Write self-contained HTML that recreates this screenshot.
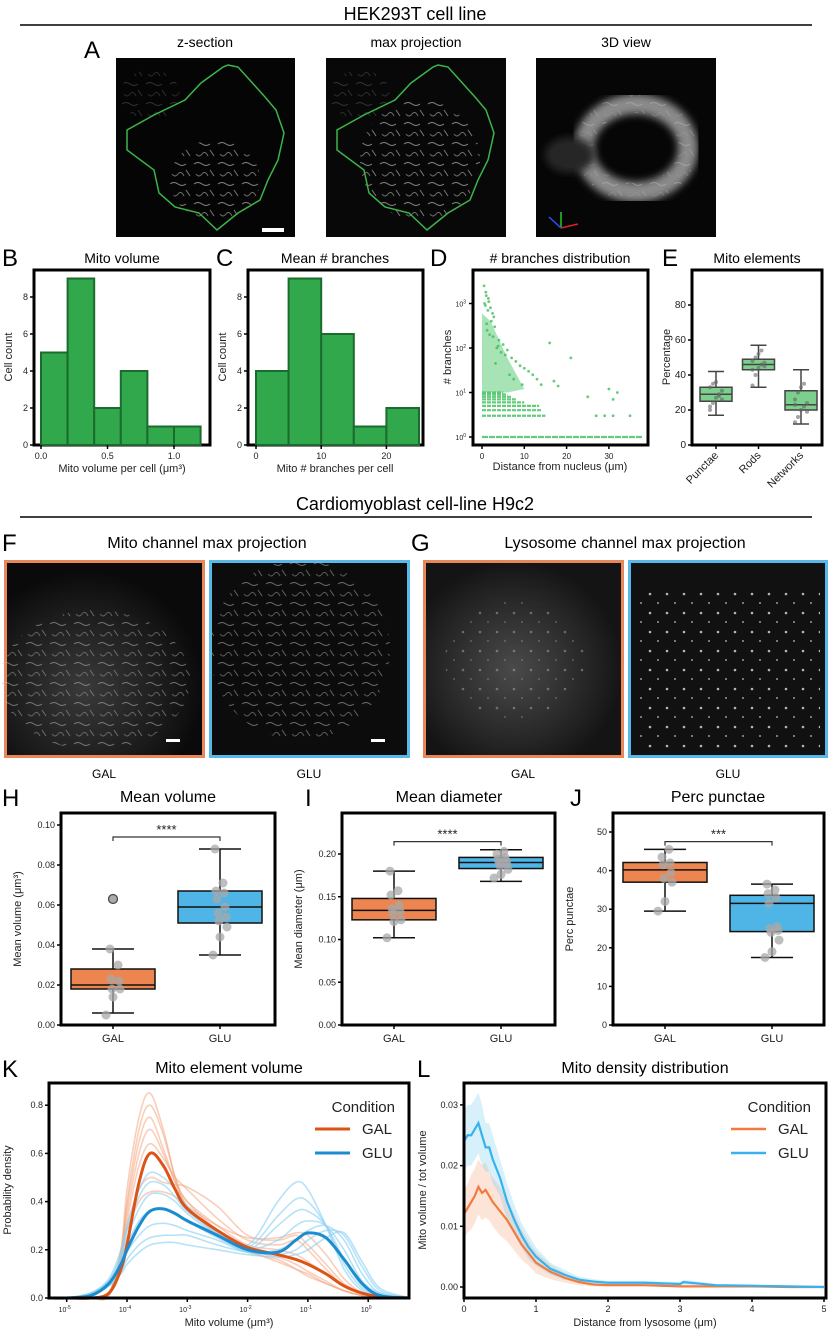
<!DOCTYPE html>
<html><head><meta charset="utf-8"><style>
html,body{margin:0;padding:0;background:#fff}
svg{display:block;font-family:"Liberation Sans",Arial,sans-serif}
.n{font-family:"Liberation Sans Narrow","Liberation Sans",sans-serif}
</style></head><body>
<svg id="fig" width="830" height="1334" viewBox="0 0 830 1334" xmlns="http://www.w3.org/2000/svg">
<defs>
<radialGradient id="mitoGlow" cx="0.4" cy="0.65" r="0.6"><stop offset="0" stop-color="#3a3a3a"/><stop offset="0.7" stop-color="#1a1a1a"/><stop offset="1" stop-color="#0a0a0a"/></radialGradient>
<radialGradient id="lysoGlow" cx="0.45" cy="0.55" r="0.55"><stop offset="0" stop-color="#4a4a4a"/><stop offset="0.7" stop-color="#252525"/><stop offset="1" stop-color="#141414"/></radialGradient>
<pattern id="squig" width="24" height="20" patternUnits="userSpaceOnUse">
<path d="M2,4 q4,-3 8,0 t8,0" fill="none" stroke="#bbb" stroke-width="1"/>
<path d="M4,14 q3,4 6,0 t6,2" fill="none" stroke="#999" stroke-width="1"/>
<path d="M18,10 l4,6" stroke="#aaa" stroke-width="1"/>
</pattern>
<pattern id="dots" width="17" height="19" patternUnits="userSpaceOnUse">
<circle cx="4" cy="5" r="1.3" fill="#ddd"/><circle cx="12" cy="14" r="1" fill="#bbb"/>
</pattern>
<filter id="blur2"><feGaussianBlur stdDeviation="4"/></filter>
<filter id="blur5"><feGaussianBlur stdDeviation="6"/></filter>
</defs>
<text class="n" x="415" y="20" font-size="18" text-anchor="middle">HEK293T cell line</text>
<line x1="20" y1="25" x2="812" y2="25" stroke="#000" stroke-width="1.5"/>
<text class="n" x="84" y="58" font-size="24">A</text>
<text class="n" x="205" y="47" font-size="14" text-anchor="middle">z-section</text>
<text class="n" x="416" y="47" font-size="14" text-anchor="middle">max projection</text>
<text class="n" x="626" y="47" font-size="14" text-anchor="middle">3D view</text>
<g>
<rect x="116" y="58" width="179" height="179" fill="#050505"/>
<ellipse cx="215" cy="180" rx="45" ry="40" fill="url(#squig)" opacity="0.7"/>
<ellipse cx="150" cy="95" rx="30" ry="25" fill="url(#squig)" opacity="0.25"/>
<polygon points="228,65 238,67 265,97 276,110 284,133 278,160 268,180 260,200 238,213 217,230 199,213 175,207 159,193 154,170 127,150 127,130 154,115 185,100 201,83 223,67" fill="none" stroke="#3cb54a" stroke-width="1.5"/>
<rect x="262" y="228" width="22" height="4" fill="#fff"/>
</g>
<g transform="translate(210,0)">
<rect x="116" y="58" width="180" height="179" fill="#080808"/>
<ellipse cx="210" cy="160" rx="60" ry="60" fill="url(#squig)" opacity="0.7"/>
<ellipse cx="150" cy="95" rx="30" ry="25" fill="url(#squig)" opacity="0.25"/>
<polygon points="228,65 238,67 265,97 276,110 284,133 278,160 268,180 260,200 238,213 217,230 199,213 175,207 159,193 154,170 127,150 127,130 154,115 185,100 201,83 223,67" fill="none" stroke="#3cb54a" stroke-width="1.5"/>
</g>
<g>
<rect x="536" y="58" width="180" height="179" fill="#060606"/>
<ellipse cx="636" cy="148" rx="52" ry="44" fill="none" stroke="#8a8a8a" stroke-width="20" filter="url(#blur2)"/>
<ellipse cx="636" cy="148" rx="52" ry="44" fill="none" stroke="url(#squig)" stroke-width="18" opacity="0.5"/>
<ellipse cx="570" cy="155" rx="25" ry="18" fill="#262626" filter="url(#blur2)"/>
<line x1="561" y1="228" x2="561" y2="212" stroke="#2c2" stroke-width="1.5"/>
<line x1="561" y1="228" x2="578" y2="224" stroke="#d22" stroke-width="1.5"/>
<line x1="561" y1="228" x2="549" y2="217" stroke="#25f" stroke-width="1.5"/>
</g>

<text x="2" y="266" font-size="24">B</text>
<text x="122" y="263" font-size="14" text-anchor="middle">Mito volume</text>
<text x="216" y="266" font-size="24">C</text>
<text x="335" y="263" font-size="14" text-anchor="middle">Mean # branches</text>
<text x="430" y="266" font-size="24">D</text>
<text x="560" y="263" font-size="14" text-anchor="middle"># branches distribution</text>
<text x="662" y="266" font-size="24">E</text>
<text x="757" y="263" font-size="14" text-anchor="middle">Mito elements</text>

<text class="n" x="415" y="510" font-size="18" text-anchor="middle">Cardiomyoblast cell-line H9c2</text>
<line x1="20" y1="517" x2="812" y2="517" stroke="#000" stroke-width="1.5"/>
<text class="n" x="2" y="551" font-size="24">F</text>
<text class="n" x="207" y="548" font-size="16" text-anchor="middle">Mito channel max projection</text>
<text class="n" x="411" y="551" font-size="24">G</text>
<text class="n" x="625" y="548" font-size="16" text-anchor="middle">Lysosome channel max projection</text>
<g>
<rect x="5.5" y="561.5" width="198" height="195" fill="url(#mitoGlow)" stroke="#e8875a" stroke-width="3"/>
<ellipse cx="95" cy="680" rx="95" ry="70" fill="url(#squig)" opacity="0.55"/>
<rect x="166" y="739" width="14" height="3" fill="#fff"/></g>
<g>
<rect x="210.5" y="561.5" width="198" height="195" fill="#0c0c0c" stroke="#58b8e8" stroke-width="3"/>
<ellipse cx="300" cy="650" rx="90" ry="90" fill="url(#squig)" opacity="0.55"/>
<rect x="371" y="739" width="14" height="3" fill="#fff"/></g>
<g>
<rect x="424.5" y="561.5" width="198" height="195" fill="url(#lysoGlow)" stroke="#e8875a" stroke-width="3"/>
<ellipse cx="515" cy="660" rx="70" ry="60" fill="url(#dots)" opacity="0.35"/></g>
<g>
<rect x="629.5" y="561.5" width="197" height="195" fill="#111" stroke="#58b8e8" stroke-width="3"/>
<rect x="640" y="590" width="180" height="160" fill="url(#dots)" opacity="0.8"/></g>
<text class="n" x="104" y="778" font-size="12" text-anchor="middle">GAL</text>
<text class="n" x="309" y="778" font-size="12" text-anchor="middle">GLU</text>
<text class="n" x="523" y="778" font-size="12" text-anchor="middle">GAL</text>
<text class="n" x="728" y="778" font-size="12" text-anchor="middle">GLU</text>

<text x="2" y="806" font-size="24">H</text>
<text x="168" y="802" font-size="16" text-anchor="middle">Mean volume</text>
<text x="305" y="806" font-size="24">I</text>
<text x="449" y="802" font-size="16" text-anchor="middle">Mean diameter</text>
<text x="570" y="806" font-size="24">J</text>
<text x="718" y="802" font-size="16" text-anchor="middle">Perc punctae</text>

<text x="2" y="1077" font-size="24">K</text>
<text x="229" y="1073" font-size="16" text-anchor="middle">Mito element volume</text>
<text x="417" y="1077" font-size="24">L</text>
<text x="645" y="1073" font-size="16" text-anchor="middle">Mito density distribution</text>
<g id="charts"></g>
</svg>
<script>
// ---------- data ----------
const histBEdges=[0,0.2,0.4,0.6,0.8,1.0,1.2];
const histBCounts=[5,9,2,4,1,1];
const histCEdges=[0,5,10,15,20,25];
const histCCounts=[4,9,6,1,2];
const dRowValues=[1,3,4,5,6,7,8,9,10];
const dRowMaxDist=[38,15,14,13.5,10,8,7,6,5];
const dScatterDist=[0.5,1,1.5,0.8,2,2.5,3,1.2,4,5,1.8,3.5,6,7,2.2,8,9,0.6,1.4,2.8,4.5,5.5,10,11,12,16,21,3.2,6.5,1.1,2.6,3.8,13,14,27,29,31,32,25,30,31,35,17,18,7.5,9.5,0.9,1.6];
const dScatterBranch=[2500,1500,1300,900,800,600,300,250,150,120,200,100,90,60,400,50,40,1000,700,500,80,70,35,30,25,130,60,45,25,350,180,110,20,15,3,3,3,10,8,12,7,3,18,14,20,15,1800,1100];
const eCats=['Punctae','Rods','Networks'];
const eWhiskLo=[17,33,12];const eQ1=[25,43,20];const eMed=[29,46,23];const eQ3=[33,49,31];const eWhiskHi=[42,57,43];
const ePointsVal=[[20,24,27,29,31,33,35,36,28,26,22],[34,40,44,46,47,48,50,52,54,45,43],[13,16,20,22,24,26,30,33,35,19,23]];
const condCats=['GAL','GLU'];
const hLo=[0.006,0.035],hQ1=[0.018,0.051],hMed=[0.020,0.059],hQ3=[0.028,0.067],hHi=[0.038,0.088];
const hPts=[[0.005,0.014,0.018,0.018,0.022,0.023,0.030,0.038],[0.035,0.044,0.049,0.052,0.054,0.056,0.059,0.063,0.066,0.067,0.071,0.088]];
const hOutliers=[0.063];
const iLo=[0.102,0.168],iQ1=[0.123,0.183],iMed=[0.134,0.19],iQ3=[0.148,0.196],iHi=[0.180,0.205];
const iPts=[[0.102,0.121,0.123,0.130,0.133,0.136,0.140,0.152,0.157,0.180],[0.172,0.176,0.182,0.186,0.188,0.190,0.192,0.194,0.196,0.2,0.203]];
const jLo=[29.5,17.5],jQ1=[37,24.2],jMed=[40.2,31.5],jQ3=[42.1,33.6],jHi=[45.5,36.5];
const jPts=[[29.5,32,37,38,39.5,41.5,42,43.5,45.5],[17.5,19,22,24,24.5,25,25.5,31.5,33,34,35,36.5]];
const kLogX=[-5.3,-5,-4.6,-4.3,-4.1,-4,-3.8,-3.62,-3.4,-3.2,-3,-2.5,-2,-1.5,-1.2,-1,-0.7,-0.4,-0.1,0.2,0.7];
const kGalMean=[0,0,0,0.02,0.12,0.22,0.48,0.6,0.55,0.45,0.37,0.28,0.21,0.18,0.16,0.14,0.1,0.05,0.02,0.005,0];
const kGluMean=[0,0,0.01,0.06,0.14,0.2,0.3,0.36,0.37,0.35,0.32,0.26,0.2,0.19,0.24,0.27,0.25,0.16,0.06,0.01,0];
const kGalReps=[
[0,0,0,0.01,0.2,0.45,0.75,0.85,0.7,0.5,0.38,0.26,0.19,0.16,0.12,0.1,0.06,0.03,0.01,0,0],
[0,0,0,0.01,0.18,0.4,0.7,0.8,0.68,0.5,0.4,0.28,0.2,0.15,0.12,0.09,0.06,0.03,0.01,0,0],
[0,0,0,0.02,0.2,0.38,0.65,0.75,0.62,0.48,0.38,0.27,0.2,0.17,0.14,0.11,0.07,0.03,0.01,0,0],
[0,0,0,0.02,0.18,0.35,0.6,0.7,0.6,0.48,0.4,0.3,0.22,0.2,0.18,0.15,0.1,0.05,0.02,0,0],
[0,0,0,0.02,0.17,0.32,0.55,0.64,0.58,0.5,0.45,0.33,0.24,0.22,0.24,0.2,0.12,0.05,0.02,0,0],
[0,0,0,0.02,0.16,0.3,0.45,0.5,0.48,0.47,0.46,0.38,0.26,0.24,0.26,0.22,0.14,0.06,0.02,0,0],
[0,0,0,0.02,0.15,0.28,0.4,0.44,0.44,0.42,0.38,0.3,0.25,0.25,0.27,0.26,0.18,0.08,0.02,0,0]];
const kGluReps=[
[0,0,0.02,0.08,0.2,0.3,0.45,0.52,0.5,0.45,0.38,0.28,0.22,0.4,0.48,0.45,0.3,0.12,0.03,0.01,0],
[0,0,0.02,0.07,0.18,0.28,0.42,0.48,0.47,0.42,0.36,0.27,0.21,0.34,0.41,0.4,0.3,0.14,0.04,0.01,0],
[0,0,0.02,0.07,0.16,0.25,0.37,0.43,0.43,0.4,0.35,0.26,0.2,0.3,0.36,0.36,0.3,0.16,0.05,0.01,0],
[0,0,0.02,0.07,0.15,0.22,0.32,0.36,0.37,0.35,0.32,0.25,0.2,0.24,0.3,0.32,0.3,0.2,0.07,0.02,0],
[0,0,0.02,0.06,0.13,0.19,0.26,0.3,0.31,0.3,0.28,0.24,0.19,0.2,0.24,0.28,0.3,0.24,0.1,0.02,0],
[0,0,0.02,0.05,0.11,0.16,0.22,0.25,0.26,0.26,0.26,0.22,0.19,0.18,0.2,0.24,0.28,0.26,0.13,0.03,0],
[0,0,0.01,0.05,0.1,0.14,0.19,0.22,0.23,0.23,0.22,0.2,0.18,0.17,0.18,0.2,0.25,0.27,0.15,0.04,0]];
const lDist=[0,0.05,0.1,0.15,0.2,0.25,0.3,0.35,0.4,0.5,0.6,0.7,0.8,0.9,1.0,1.2,1.4,1.6,1.8,2,2.5,3,3.05,3.5,4,4.5,5];
const lGlu=[0.024,0.025,0.025,0.026,0.027,0.025,0.023,0.023,0.021,0.018,0.014,0.011,0.0085,0.0065,0.005,0.003,0.002,0.0012,0.0009,0.0007,0.0007,0.0005,0.0008,0.0003,0.0002,0.0001,0];
const lGal=[0.012,0.013,0.014,0.015,0.0165,0.0155,0.016,0.015,0.014,0.0125,0.011,0.009,0.007,0.0055,0.004,0.0025,0.0015,0.0008,0.0004,0.0003,0.0003,0.0001,0.0001,0.0001,0.0001,0,0];
const lGluErr=[0.005,0.005,0.005,0.005,0.005,0.005,0.004,0.004,0.004,0.003,0.003,0.0025,0.002,0.002,0.0015,0.001,0.0008,0.0005,0.0004,0.0003,0.0003,0.0003,0.0004,0.0002,0.0001,0.0001,0.0001];
const lGalErr=[0.004,0.004,0.0045,0.0045,0.0045,0.0045,0.0045,0.004,0.004,0.004,0.0035,0.003,0.0025,0.002,0.0018,0.0012,0.0008,0.0005,0.0003,0.0002,0.0002,0.0001,0.0001,0.0001,0.0001,0,0];

// ---------- helpers ----------
const NS='http://www.w3.org/2000/svg';
const root=document.getElementById('charts');
function mk(tag,attrs,name,parent){
  const el=document.createElementNS(NS,tag);
  for(const k in attrs) el.setAttribute(k,attrs[k]);
  
  
  (parent||root).appendChild(el);return el;
}
function txt(x,y,s,size,name,anchor,extra){
  const t=mk('text',Object.assign({x:x,y:y,'font-size':size,'text-anchor':anchor||'middle',fill:'#222'},extra||{}),name);
  t.textContent=s;return t;
}
function frame(x0,y0,x1,y1,name){mk('rect',{x:x0,y:y0,width:x1-x0,height:y1-y0,fill:'none',stroke:'#000','stroke-width':3},name);}
function yTicks(vals,labels,yf,x0,name,size){
  vals.forEach((v,i)=>{const y=yf(v);mk('line',{x1:x0-4,x2:x0,y1:y,y2:y,stroke:'#000','stroke-width':1.5},name+'-tick');
    txt(x0-6,y+3,labels[i],size||9,name+'-label','end');});
}
function xTicks(vals,labels,xf,y0,name,size){
  vals.forEach((v,i)=>{const x=xf(v);mk('line',{x1:x,x2:x,y1:y0,y2:y0+4,stroke:'#000','stroke-width':1.5},name+'-tick');
    txt(x,y0+14,labels[i],size||9,name+'-label');});
}
function ylab(x,y,s,size,name){txt(x,y,s,size,name,'middle',{transform:'rotate(-90 '+x+' '+y+')'});}
function smooth(pts){
  let d='M'+pts[0][0]+','+pts[0][1];
  for(let i=0;i<pts.length-1;i++){
    const p0=pts[i-1]||pts[i],p1=pts[i],p2=pts[i+1],p3=pts[i+2]||p2;
    const c1=[p1[0]+(p2[0]-p0[0])/6,p1[1]+(p2[1]-p0[1])/6],c2=[p2[0]-(p3[0]-p1[0])/6,p2[1]-(p3[1]-p1[1])/6];
    d+=' C'+c1[0]+','+c1[1]+' '+c2[0]+','+c2[1]+' '+p2[0]+','+p2[1];
  }return d;
}

// ---------- B ----------
(function(){
  const xB=v=>41+v*133, yB=c=>445-c*18.5;
  frame(34,270,210,445,'panel-b-frame');
  histBCounts.forEach((c,i)=>mk('rect',{x:xB(histBEdges[i]),y:yB(c),width:xB(histBEdges[i+1])-xB(histBEdges[i]),height:yB(0)-yB(c),fill:'#30a84b',stroke:'#1c6b2e','stroke-width':2},'mito-volume-bar'));
  yTicks([0,2,4,6,8],['0','2','4','6','8'],yB,34,'b-y');
  xTicks([0,0.5,1.0],['0.0','0.5','1.0'],xB,445,'b-x');
  ylab(12,357,'Cell count',11,'b-y-axis-title');
  txt(122,472,'Mito volume per cell (μm³)',11,'b-x-axis-title');
})();
// ---------- C ----------
(function(){
  const xC=v=>256+v*6.52, yC=c=>445-c*18.5;
  frame(248,270,423,445,'panel-c-frame');
  histCCounts.forEach((c,i)=>mk('rect',{x:xC(histCEdges[i]),y:yC(c),width:xC(histCEdges[i+1])-xC(histCEdges[i]),height:yC(0)-yC(c),fill:'#30a84b',stroke:'#1c6b2e','stroke-width':2},'branches-bar'));
  yTicks([0,2,4,6,8],['0','2','4','6','8'],yC,248,'c-y');
  xTicks([0,10,20],['0','10','20'],xC,445,'c-x');
  ylab(226,357,'Cell count',11,'c-y-axis-title');
  txt(335,472,'Mito # branches per cell',11,'c-x-axis-title');
})();
// ---------- D ----------
(function(){
  const xD=v=>482+v*4.23, yD=v=>437-Math.log10(v)*44.5;
  frame(473,270,648,445,'panel-d-frame');
  dRowValues.forEach((v,i)=>mk('line',{x1:xD(0),x2:xD(dRowMaxDist[i]),y1:yD(v),y2:yD(v),stroke:'#3cc05a','stroke-width':2.2,'stroke-dasharray':i==0?'6 1':'4 1',opacity:0.8},'branch-row'));
  mk('path',{d:'M'+xD(0)+','+yD(10)+' L'+xD(0)+','+yD(600)+' L'+xD(2)+','+yD(400)+' L'+xD(6)+','+yD(60)+' L'+xD(10)+','+yD(12)+' L'+xD(6)+','+yD(10)+' Z',fill:'#3cc05a',opacity:0.45},'dense-cloud');
  dScatterDist.forEach((d,i)=>mk('circle',{cx:xD(d),cy:yD(dScatterBranch[i]),r:1.4,fill:'#3cc05a',opacity:0.8},'branch-point'));
  [[1,'0'],[10,'1'],[100,'2'],[1000,'3']].forEach(t=>{const y=yD(t[0]);
    mk('line',{x1:469,x2:473,y1:y,y2:y,stroke:'#000','stroke-width':1.5},'d-y-tick');
    const tx=txt(466,y+3,'10',7,'d-y-label','end');const s=document.createElementNS(NS,'tspan');s.setAttribute('dy','-3');s.setAttribute('font-size','5');s.textContent=t[1];tx.appendChild(s);});
  xTicks([0,10,20,30],['0','10','20','30'],xD,445,'d-x',8);
  ylab(451,357,'# branches',11,'d-y-axis-title');
  txt(560,470,'Distance from nucleus (μm)',11,'d-x-axis-title');
})();
// ---------- E ----------
(function(){
  const yE=v=>445-v*1.75, xE=i=>716+i*42.5;
  frame(692,270,822,445,'panel-e-frame');
  eCats.forEach((c,i)=>{const x=xE(i),w=32;
    mk('line',{x1:x,x2:x,y1:yE(eWhiskLo[i]),y2:yE(eWhiskHi[i]),stroke:'#444','stroke-width':1.5},'e-whisker');
    mk('line',{x1:x-8,x2:x+8,y1:yE(eWhiskLo[i]),y2:yE(eWhiskLo[i]),stroke:'#444','stroke-width':1.5},'e-cap');
    mk('line',{x1:x-8,x2:x+8,y1:yE(eWhiskHi[i]),y2:yE(eWhiskHi[i]),stroke:'#444','stroke-width':1.5},'e-cap');
    mk('rect',{x:x-w/2,y:yE(eQ3[i]),width:w,height:yE(eQ1[i])-yE(eQ3[i]),fill:'#7ccf8c',stroke:'#444','stroke-width':1.5},'e-box-'+c.toLowerCase());
    mk('line',{x1:x-w/2,x2:x+w/2,y1:yE(eMed[i]),y2:yE(eMed[i]),stroke:'#444','stroke-width':1.5},'e-median');
    ePointsVal[i].forEach((v,j)=>mk('circle',{cx:x-6+(j%5)*3,cy:yE(v),r:2,fill:'#666',opacity:0.6},'e-point'));
    mk('line',{x1:x,x2:x,y1:445,y2:449,stroke:'#000','stroke-width':1.5},'e-x-tick');
    txt(x+3,456,c,11,'e-x-label','end',{transform:'rotate(-45 '+(x+3)+' 456)'});
  });
  yTicks([0,20,40,60,80],['0','20','40','60','80'],yE,692,'e-y',10);
  ylab(670,357,'Percentage',11,'e-y-axis-title');
})();
// ---------- H/I/J box plots ----------
function boxPanel(o){
  const left=o.left,right=o.right,top=813,bot=1025;
  frame(left,top,right,bot,o.id+'-frame');
  const xf=i=>left+52+i*107;
  condCats.forEach((c,i)=>{const x=xf(i),w=84,col=i==0?'#ec8550':'#4fb5e6';
    mk('line',{x1:x,x2:x,y1:o.y(o.lo[i]),y2:o.y(o.hi[i]),stroke:'#111','stroke-width':1.5},o.id+'-whisker');
    [o.lo[i],o.hi[i]].forEach(v=>mk('line',{x1:x-21,x2:x+21,y1:o.y(v),y2:o.y(v),stroke:'#111','stroke-width':1.5},o.id+'-cap'));
    mk('rect',{x:x-w/2,y:o.y(o.q3[i]),width:w,height:o.y(o.q1[i])-o.y(o.q3[i]),fill:col,stroke:'#111','stroke-width':1.5},o.id+'-box-'+c.toLowerCase());
    mk('line',{x1:x-w/2,x2:x+w/2,y1:o.y(o.med[i]),y2:o.y(o.med[i]),stroke:'#111','stroke-width':1.5},o.id+'-median');
    o.pts[i].forEach((v,j)=>mk('circle',{cx:x+((j*7)%15)-7,cy:o.y(v),r:4.5,fill:'#a8a8a8',opacity:0.75},o.id+'-point'));
    mk('line',{x1:x,x2:x,y1:bot,y2:bot+4,stroke:'#000','stroke-width':1.5},o.id+'-x-tick');
    txt(x,bot+17,c,11,o.id+'-x-label');
  });
  if(o.outliers) o.outliers.forEach(v=>mk('circle',{cx:xf(0),cy:o.y(v),r:4.5,fill:'#aaa',stroke:'#444','stroke-width':1.2},o.id+'-outlier'));
  const by=o.y(o.bracket);
  mk('path',{d:'M'+xf(0)+','+(by+4)+' V'+by+' H'+xf(1)+' V'+(by+4),fill:'none',stroke:'#333','stroke-width':1.2},o.id+'-significance-bracket');
  txt((xf(0)+xf(1))/2,by-3,o.stars,13,o.id+'-significance-stars');
  yTicks(o.ticks,o.tickLabels,o.y,left,o.id+'-y',9);
  ylab(left-40,919,o.ylabel,11,o.id+'-y-axis-title');
}
boxPanel({id:'h',left:61,right:275,y:v=>1025-v*2000,lo:hLo,q1:hQ1,med:hMed,q3:hQ3,hi:hHi,pts:hPts,outliers:hOutliers,bracket:0.094,stars:'****',ticks:[0,0.02,0.04,0.06,0.08,0.10],tickLabels:['0.00','0.02','0.04','0.06','0.08','0.10'],ylabel:'Mean volume (μm³)'});
boxPanel({id:'i',left:342,right:555,y:v=>1025-v*855,lo:iLo,q1:iQ1,med:iMed,q3:iQ3,hi:iHi,pts:iPts,bracket:0.2145,stars:'****',ticks:[0,0.05,0.10,0.15,0.20],tickLabels:['0.00','0.05','0.10','0.15','0.20'],ylabel:'Mean diameter (μm)'});
boxPanel({id:'j',left:613,right:824,y:v=>1025-v*3.86,lo:jLo,q1:jQ1,med:jMed,q3:jQ3,hi:jHi,pts:jPts,bracket:47.5,stars:'***',ticks:[0,10,20,30,40,50],tickLabels:['0','10','20','30','40','50'],ylabel:'Perc punctae'});
// ---------- K ----------
(function(){
  const xK=l=>127+(l+4)*60.3, yK=v=>1298-v*241;
  const pts=a=>a.map((v,i)=>[xK(kLogX[i]),yK(v)]);
  kGalReps.forEach(r=>mk('path',{d:smooth(pts(r)),fill:'none',stroke:'#f4a582','stroke-width':1.6,opacity:0.55},'gal-replicate-curve'));
  kGluReps.forEach(r=>mk('path',{d:smooth(pts(r)),fill:'none',stroke:'#8fd3f3','stroke-width':1.6,opacity:0.65},'glu-replicate-curve'));
  mk('path',{d:smooth(pts(kGalMean)),fill:'none',stroke:'#dd5316','stroke-width':3},'gal-mean-curve');
  mk('path',{d:smooth(pts(kGluMean)),fill:'none',stroke:'#1b8ccf','stroke-width':3},'glu-mean-curve');
  frame(49,1083,409,1298,'panel-k-frame');
  yTicks([0,0.2,0.4,0.6,0.8],['0.0','0.2','0.4','0.6','0.8'],yK,49,'k-y',9);
  [-5,-4,-3,-2,-1,0].forEach(l=>{const x=xK(l);
    mk('line',{x1:x,x2:x,y1:1298,y2:1302,stroke:'#000','stroke-width':1.5},'k-x-tick');
    const t=txt(x-2,1312,'10',7,'k-x-label');const s=document.createElementNS(NS,'tspan');s.setAttribute('dy','-3');s.setAttribute('font-size','5');s.textContent=String(l);t.appendChild(s);});
  ylab(11,1190,'Probability density',11,'k-y-axis-title');
  txt(229,1326,'Mito volume (μm³)',11,'k-x-axis-title');
  txt(395,1112,'Condition',15,'k-legend-title','end');
  mk('line',{x1:315,x2:350,y1:1129,y2:1129,stroke:'#dd5316','stroke-width':3},'k-legend-gal-line');
  txt(362,1134,'GAL',15,'k-legend-gal-label','start');
  mk('line',{x1:315,x2:350,y1:1153,y2:1153,stroke:'#1b8ccf','stroke-width':3},'k-legend-glu-line');
  txt(362,1158,'GLU',15,'k-legend-glu-label','start');
})();
// ---------- L ----------
(function(){
  const xL=v=>464+v*72, yL=v=>1287-v*6070;
  function band(m,e,col,name){
    const up=m.map((v,i)=>[xL(lDist[i]),yL(v+e[i])]),lo=m.map((v,i)=>[xL(lDist[i]),yL(Math.max(0,v-e[i]))]).reverse();
    mk('path',{d:'M'+up.map(p=>p.join(',')).join(' L')+' L'+lo.map(p=>p.join(',')).join(' L')+' Z',fill:col,opacity:0.3},name);
  }
  band(lGal,lGalErr,'#f4a582','gal-ci-band');
  band(lGlu,lGluErr,'#7fcdf0','glu-ci-band');
  mk('path',{d:'M'+lGal.map((v,i)=>xL(lDist[i])+','+yL(v)).join(' L'),fill:'none',stroke:'#f47a3c','stroke-width':2.2},'gal-density-line');
  mk('path',{d:'M'+lGlu.map((v,i)=>xL(lDist[i])+','+yL(v)).join(' L'),fill:'none',stroke:'#36b2ee','stroke-width':2.2},'glu-density-line');
  frame(464,1083,826,1298,'panel-l-frame');
  yTicks([0,0.01,0.02,0.03],['0.00','0.01','0.02','0.03'],yL,464,'l-y',9);
  xTicks([0,1,2,3,4,5],['0','1','2','3','4','5'],xL,1298,'l-x',9);
  ylab(426,1190,'Mito volume / tot volume',11,'l-y-axis-title');
  txt(645,1326,'Distance from lysosome (μm)',11,'l-x-axis-title');
  txt(811,1112,'Condition',15,'l-legend-title','end');
  mk('line',{x1:731,x2:766,y1:1129,y2:1129,stroke:'#f47a3c','stroke-width':2.5},'l-legend-gal-line');
  txt(778,1134,'GAL',15,'l-legend-gal-label','start');
  mk('line',{x1:731,x2:766,y1:1153,y2:1153,stroke:'#36b2ee','stroke-width':2.5},'l-legend-glu-line');
  txt(778,1158,'GLU',15,'l-legend-glu-label','start');
})();
</script>
</body></html>
